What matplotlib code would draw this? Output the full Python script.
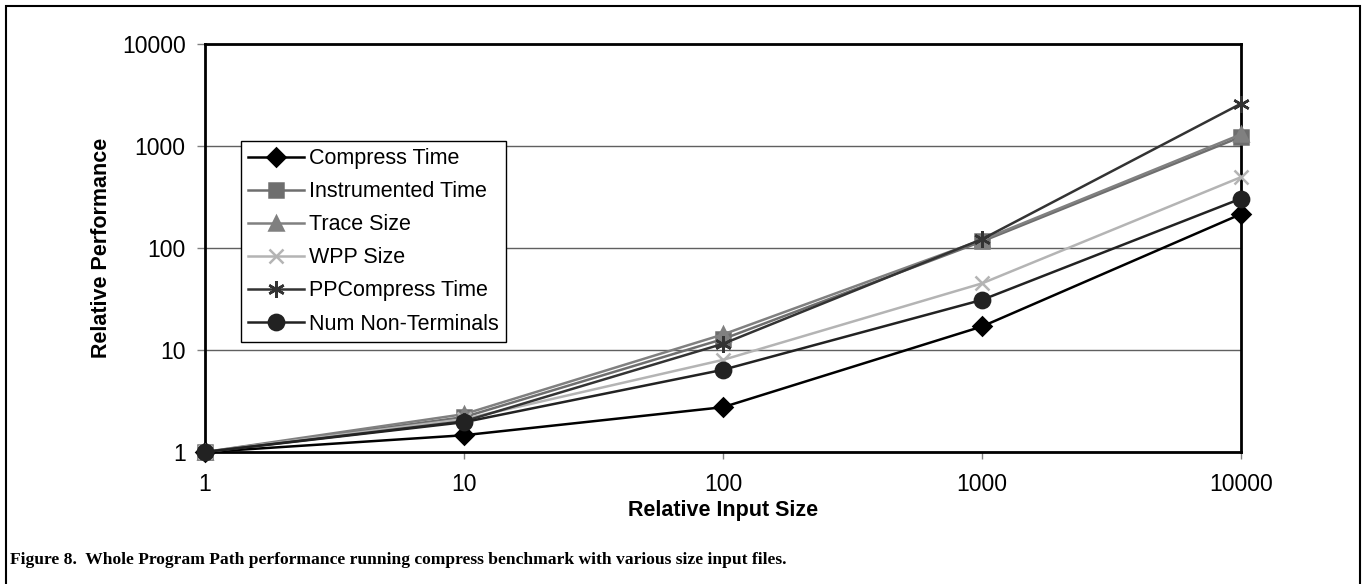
import matplotlib.pyplot as plt
from matplotlib.patches import Rectangle

plt.rcParams['font.family'] = ['Liberation Sans', 'DejaVu Sans']

# relative input size
sizes = [1, 10, 100, 1000, 10000]

compress_time = [1, 1.46, 2.75, 17, 215]
instrumented_time = [1, 2.2, 12.8, 116, 1230]
trace_size = [1, 2.35, 14.2, 120, 1300]
wpp_size = [1, 2.1, 8.0, 45, 495]
ppcompress_time = [1, 2.0, 11.5, 122, 2600]
num_nonterminals = [1, 1.96, 6.4, 31, 305]

series = [
    ("Compress Time", compress_time, "#000000", "D", 9),
    ("Instrumented Time", instrumented_time, "#6e6e6e", "s", 10),
    ("Trace Size", trace_size, "#808080", "^", 10),
    ("WPP Size", wpp_size, "#b4b4b4", "x", 10),
    ("PPCompress Time", ppcompress_time, "#333333", (6, 2, 0), 12),
    ("Num Non-Terminals", num_nonterminals, "#222222", "o", 11),
]

fig = plt.figure(figsize=(13.64, 5.84), dpi=100)
ax = fig.add_axes([205 / 1364, 1 - 452 / 584, 1036 / 1364, 408 / 584])

for name, vals, col, mk, ms in series:
    ax.plot(sizes, vals, color=col, lw=1.8, marker=mk, ms=ms,
            mec=col, mfc=col, mew=1.8, label=name, clip_on=False, zorder=3)

ax.set_xscale('log')
ax.set_yscale('log')
ax.set_xlim(1, 10000)
ax.set_ylim(1, 10000)
ax.set_xticks(sizes)
ax.set_xticklabels(["1", "10", "100", "1000", "10000"])
ax.set_yticks([1, 10, 100, 1000, 10000])
ax.set_yticklabels(["1", "10", "100", "1000", "10000"])
ax.minorticks_off()
ax.tick_params(axis='both', labelsize=16.5, color='#808080', width=1)
ax.tick_params(axis='x', length=5, pad=10)
ax.tick_params(axis='y', length=6, pad=8)
ax.grid(axis='y', color='#606060', lw=1)
ax.set_axisbelow(True)
for s in ax.spines.values():
    s.set_linewidth(2)
    s.set_color('black')

ax.set_xlabel("Relative Input Size", fontsize=15.5, fontweight='bold', labelpad=3)
ax.set_ylabel("Relative Performance", fontsize=15.5, fontweight='bold', labelpad=7)

leg = ax.legend(loc='upper left', bbox_to_anchor=(0.0345, 0.763), fontsize=15.5,
                frameon=True, fancybox=False, edgecolor='black', framealpha=1,
                handlelength=2.6, borderpad=0.35, labelspacing=0.56,
                handletextpad=0.2, borderaxespad=0)
leg.get_frame().set_linewidth(1)

fig.patches.append(Rectangle((6 / 1364, -0.1), 1354 / 1364, 1.1 - 6 / 584,
                             transform=fig.transFigure, fill=False,
                             edgecolor='black', lw=1.5))

fig.text(10 / 1364, 1 - 560 / 584,
         "Figure 8.  Whole Program Path performance running compress benchmark with various size input files.",
         family=['Liberation Serif', 'DejaVu Serif'], fontweight='bold', fontsize=12.6, va='center')

fig.savefig("out.png", dpi=100)
